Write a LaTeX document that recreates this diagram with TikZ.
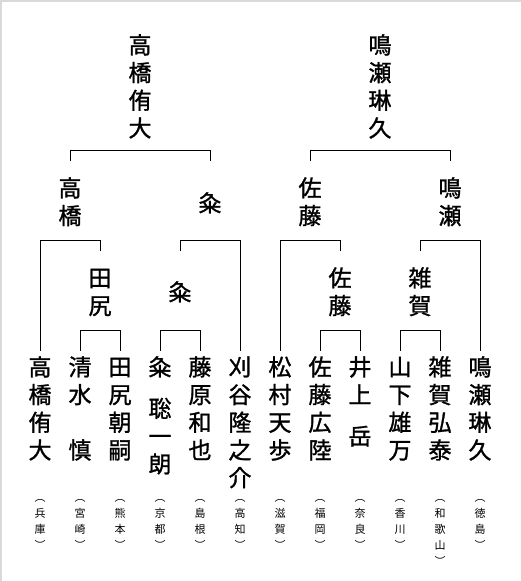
\documentclass[tikz,border=0pt]{standalone}
\usepackage{fontspec}
\newfontfamily\jp{Noto Sans CJK JP}
\newfontfamily\jpb[FakeBold=1.2]{Noto Sans CJK JP}
% one character cell of a vertical name (step 27.7pt)
\newcommand\jcell[1]{\hbox to 1.2em{\hss\vbox to 27.7pt{\vss\hbox{\vrule height .88em depth .12em width 0pt #1}\vss}\hss}}
\newcommand\jhalf{\vbox to 13.85pt{}}
\newcommand\jempty{\vbox to 27.7pt{}}
% one character cell of a prefecture (step 16pt)
\newcommand\pcell[1]{\hbox to 1.2em{\hss\vbox to 16pt{\vss\hbox{\vrule height .88em depth .12em width 0pt #1}\vss}\hss}}
\newcommand\vstk[1]{\vbox{\offinterlineskip #1}}
\begin{document}
\begin{tikzpicture}[x=1pt,y=-1pt,
  bigtxt/.style={inner sep=0pt, outer sep=0pt, anchor=north, font=\jpb\fontsize{23}{23}\selectfont},
  smalltxt/.style={inner sep=0pt, outer sep=0pt, anchor=north, font=\jp\fontsize{11}{11}\selectfont},
  bracket/.style={line width=1pt, black, line cap=rect}]
\useasboundingbox (0,0) rectangle (521,581);
\fill[white] (0,0) rectangle (521,581);
\draw[gray!30, line width=1.5pt] (0.75,581) -- (0.75,0.75) -- (521,0.75);

% final winners
\node[bigtxt] (f1) at (140,31) {\vstk{\jcell{高}\jcell{橋}\jcell{侑}\jcell{大}}};
\node[bigtxt] (f2) at (380,31) {\vstk{\jcell{鳴}\jcell{瀬}\jcell{琳}\jcell{久}}};
% round 2 winners
\node[bigtxt] (r1) at (70,174) {\vstk{\jcell{高}\jcell{橋}}};
\node[bigtxt] (r2) at (210,189) {\vstk{\jcell{粂}}};
\node[bigtxt] (r3) at (310,174) {\vstk{\jcell{佐}\jcell{藤}}};
\node[bigtxt] (r4) at (450,174) {\vstk{\jcell{鳴}\jcell{瀬}}};
% round 1 winners
\node[bigtxt] (s1) at (100,264) {\vstk{\jcell{田}\jcell{尻}}};
\node[bigtxt] (s2) at (180,278) {\vstk{\jcell{粂}}};
\node[bigtxt] (s3) at (340,264) {\vstk{\jcell{佐}\jcell{藤}}};
\node[bigtxt] (s4) at (420,264) {\vstk{\jcell{雑}\jcell{賀}}};
% players
\node[bigtxt] (p1) at (40,353) {\vstk{\jcell{高}\jcell{橋}\jcell{侑}\jcell{大}}};
\node[bigtxt] (p2) at (80,353) {\vstk{\jcell{清}\jcell{水}\jempty\jcell{慎}}};
\node[bigtxt] (p3) at (120,353) {\vstk{\jcell{田}\jcell{尻}\jcell{朝}\jcell{嗣}}};
\node[bigtxt] (p4) at (160,353) {\vstk{\jcell{粂}\jhalf\jcell{聡}\jcell{一}\jcell{朗}}};
\node[bigtxt] (p5) at (200,353) {\vstk{\jcell{藤}\jcell{原}\jcell{和}\jcell{也}}};
\node[bigtxt] (p6) at (240,353) {\vstk{\jcell{刈}\jcell{谷}\jcell{隆}\jcell{之}\jcell{介}}};
\node[bigtxt] (p7) at (280,353) {\vstk{\jcell{松}\jcell{村}\jcell{天}\jcell{歩}}};
\node[bigtxt] (p8) at (320,353) {\vstk{\jcell{佐}\jcell{藤}\jcell{広}\jcell{陸}}};
\node[bigtxt] (p9) at (360,353) {\vstk{\jcell{井}\jcell{上}\jhalf\jcell{岳}}};
\node[bigtxt] (p10) at (400,353) {\vstk{\jcell{山}\jcell{下}\jcell{雄}\jcell{万}}};
\node[bigtxt] (p11) at (440,353) {\vstk{\jcell{雑}\jcell{賀}\jcell{弘}\jcell{泰}}};
\node[bigtxt] (p12) at (480,353) {\vstk{\jcell{鳴}\jcell{瀬}\jcell{琳}\jcell{久}}};
% prefectures
\node[smalltxt] (k1) at (40,489) {\vstk{\pcell{︵}\pcell{兵}\pcell{庫}\pcell{︶}}};
\node[smalltxt] (k2) at (80,489) {\vstk{\pcell{︵}\pcell{宮}\pcell{崎}\pcell{︶}}};
\node[smalltxt] (k3) at (120,489) {\vstk{\pcell{︵}\pcell{熊}\pcell{本}\pcell{︶}}};
\node[smalltxt] (k4) at (160,489) {\vstk{\pcell{︵}\pcell{京}\pcell{都}\pcell{︶}}};
\node[smalltxt] (k5) at (200,489) {\vstk{\pcell{︵}\pcell{島}\pcell{根}\pcell{︶}}};
\node[smalltxt] (k6) at (240,489) {\vstk{\pcell{︵}\pcell{高}\pcell{知}\pcell{︶}}};
\node[smalltxt] (k7) at (280,489) {\vstk{\pcell{︵}\pcell{滋}\pcell{賀}\pcell{︶}}};
\node[smalltxt] (k8) at (320,489) {\vstk{\pcell{︵}\pcell{福}\pcell{岡}\pcell{︶}}};
\node[smalltxt] (k9) at (360,489) {\vstk{\pcell{︵}\pcell{奈}\pcell{良}\pcell{︶}}};
\node[smalltxt] (k10) at (400,489) {\vstk{\pcell{︵}\pcell{香}\pcell{川}\pcell{︶}}};
\node[smalltxt] (k11) at (440,489) {\vstk{\pcell{︵}\pcell{和}\pcell{歌}\pcell{山}\pcell{︶}}};
\node[smalltxt] (k12) at (480,489) {\vstk{\pcell{︵}\pcell{徳}\pcell{島}\pcell{︶}}};

% round 1 brackets
\draw[bracket] ([yshift=3pt]p2.north) -- ++(0,-20) -| ([yshift=3pt]p3.north);
\draw[bracket] ([yshift=3pt]p4.north) -- ++(0,-20) -| ([yshift=3pt]p5.north);
\draw[bracket] ([yshift=3pt]p8.north) -- ++(0,-20) -| ([yshift=3pt]p9.north);
\draw[bracket] ([yshift=3pt]p10.north) -- ++(0,-20) -| ([yshift=3pt]p11.north);
% round 2 brackets
\draw[bracket] ([yshift=3pt]p1.north) -- ++(0,-110) -| ([yshift=14pt]s1.north);
\draw[bracket] ([yshift=28pt]s2.north) -- ++(0,-10) -| ([yshift=3pt]p6.north);
\draw[bracket] ([yshift=3pt]p7.north) -- ++(0,-110) -| ([yshift=14pt]s3.north);
\draw[bracket] ([yshift=14pt]s4.north) -- ++(0,-10) -| ([yshift=3pt]p12.north);
% round 3 brackets
\draw[bracket] ([yshift=14pt]r1.north) -- ++(0,-10) -| ([yshift=29pt]r2.north);
\draw[bracket] ([yshift=14pt]r3.north) -- ++(0,-10) -| ([yshift=14pt]r4.north);
\end{tikzpicture}
\end{document}
